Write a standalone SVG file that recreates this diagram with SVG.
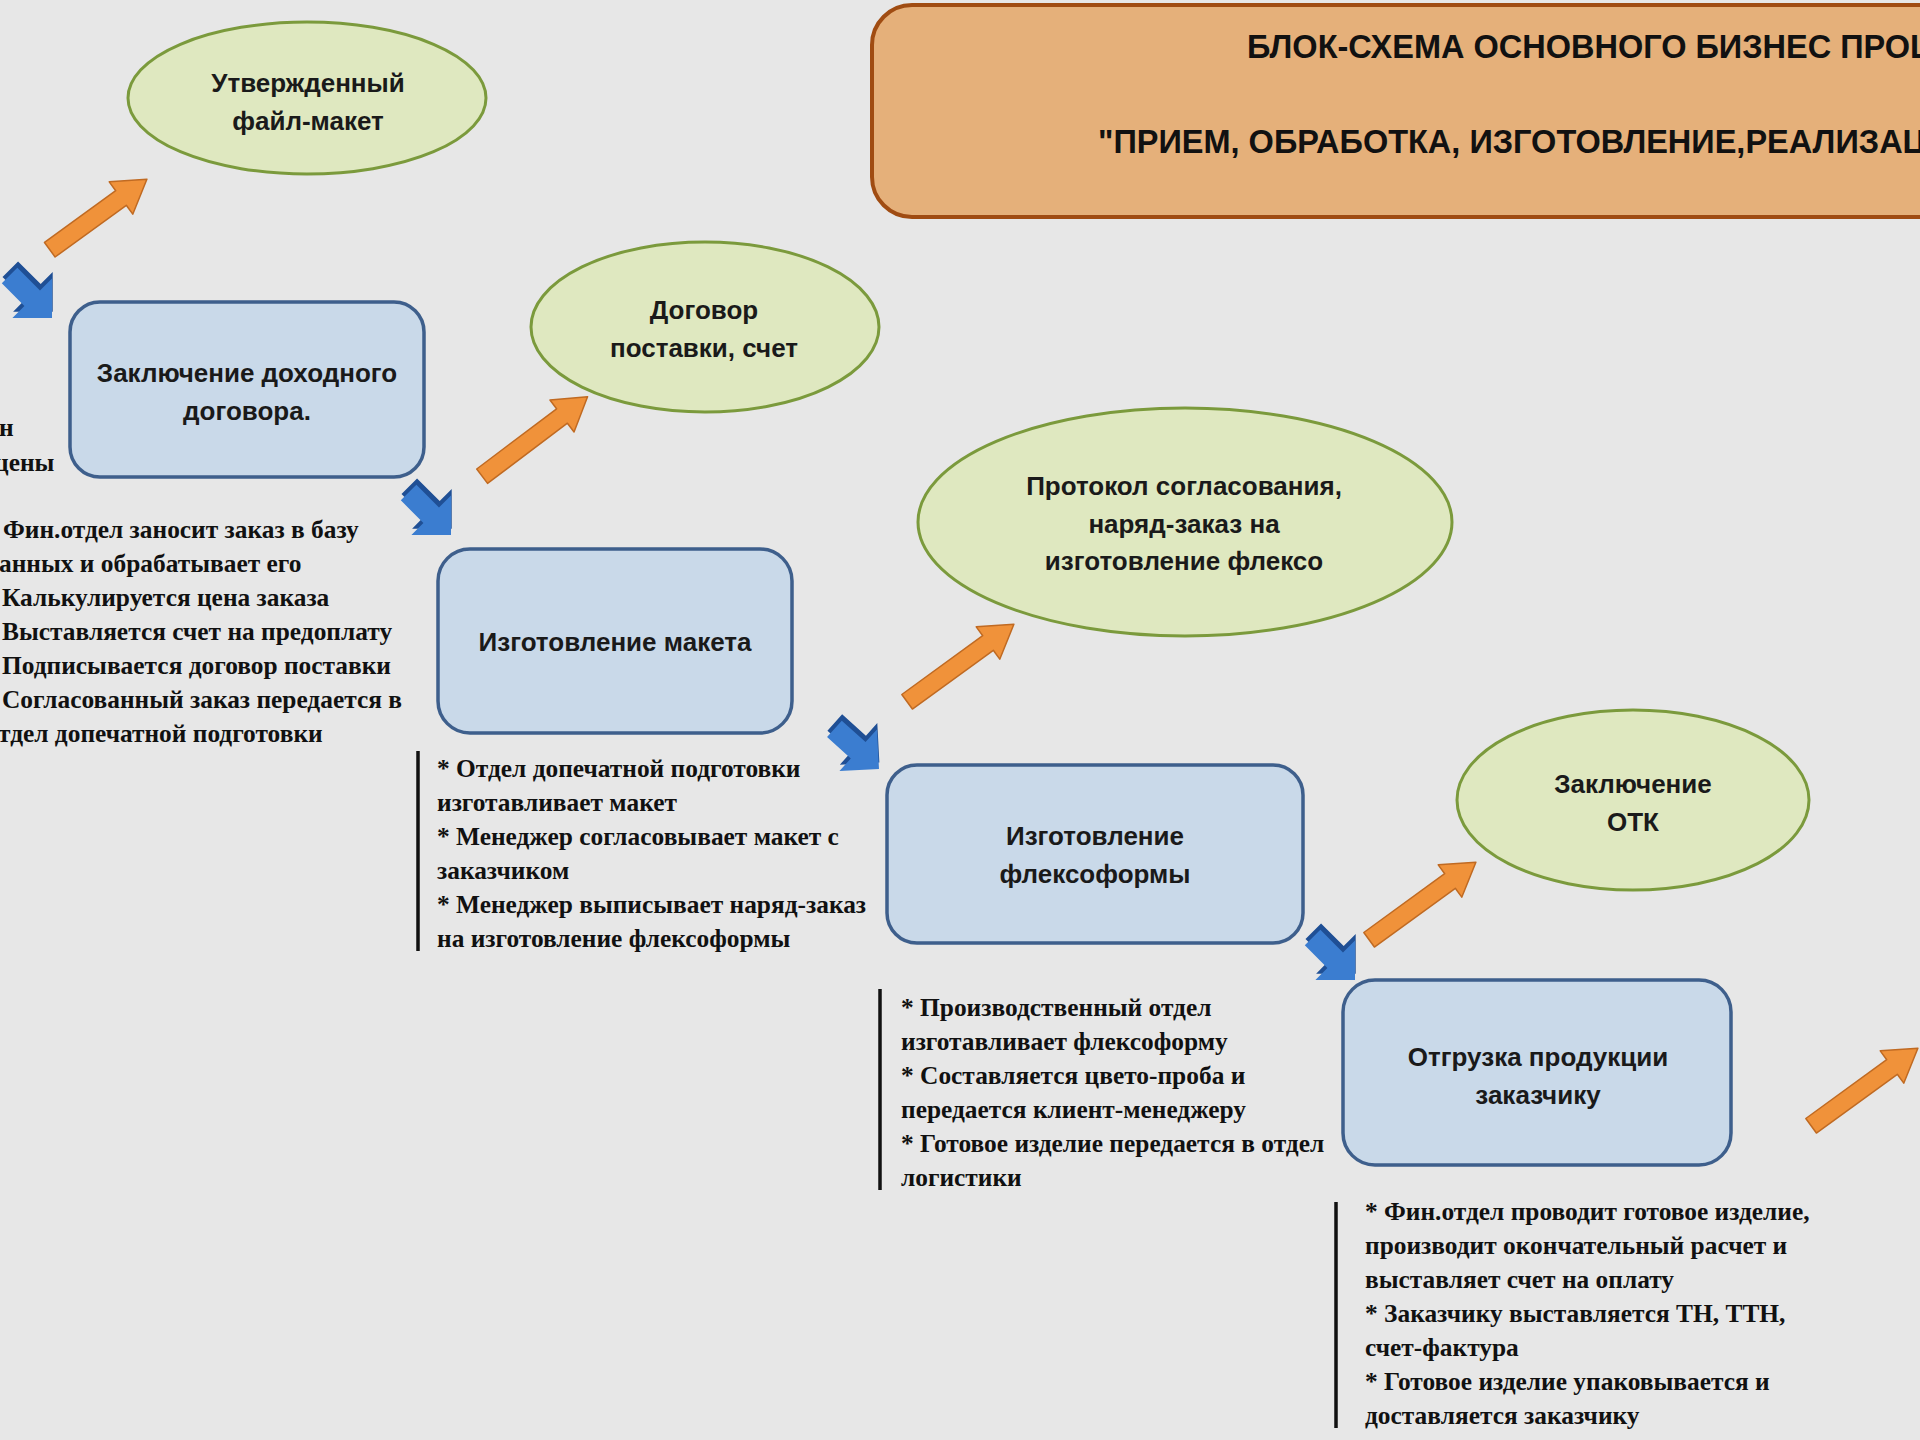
<svg xmlns="http://www.w3.org/2000/svg" width="1920" height="1440" viewBox="0 0 1920 1440">
<defs>
<style>
.bg{fill:#e7e7e7}
.ell{fill:#dfe8c0;stroke:#7b9a3c;stroke-width:3}
.box{fill:#c9d9e9;stroke:#3e5f8c;stroke-width:3.5}
.lbl{font-family:"Liberation Sans",Arial,sans-serif;font-weight:bold;font-size:26px;fill:#1a1a1a;text-anchor:middle}
.ttl{font-family:"Liberation Sans",Arial,sans-serif;font-weight:bold;font-size:32.5px;fill:#111}
.note{font-family:"Liberation Serif","Times New Roman",serif;font-weight:bold;font-size:25.4px;fill:#111}
.bar{stroke:#111;stroke-width:3.5}
.oarr{fill:#f0923a;stroke:#c06a22;stroke-width:1.5;stroke-linejoin:round}
.barr{fill:#3b7dd0}
.barrd{fill:#1f4f95}
</style>
<polygon id="oa" points="0,-9 -100,-9 -100,9 0,9 0,20 32,0 0,-20"/>
<polygon id="oa1" points="0,-9 -88,-9 -88,9 0,9 0,20 32,0 0,-20"/>
<polygon id="ba" points="0,0 -28,-28 -28,-11 -60,-11 -60,11 -28,11 -28,28"/>
</defs>
<rect class="bg" x="0" y="0" width="1920" height="1440"/>

<g id="title">
<rect x="872" y="5" width="1100" height="212" rx="40" ry="40" fill="#e5b07a" stroke="#a04c12" stroke-width="4"/>
<text class="ttl" x="1247" y="58">БЛОК-СХЕМА ОСНОВНОГО БИЗНЕС ПРОЦ</text>
<text class="ttl" x="1098" y="153">"ПРИЕМ, ОБРАБОТКА, ИЗГОТОВЛЕНИЕ,РЕАЛИЗАЦ</text>
</g>

<g id="connectors">
<use href="#oa1" class="oarr" transform="translate(121,198) rotate(-36)"/>
<use href="#oa" class="oarr" transform="translate(562,416) rotate(-37)"/>
<use href="#oa" class="oarr" transform="translate(988,643) rotate(-36)"/>
<use href="#oa" class="oarr" transform="translate(1450,881) rotate(-36)"/>
<use href="#oa" class="oarr" transform="translate(1892,1067) rotate(-36)"/>

<g transform="translate(52,318) rotate(45)"><use href="#ba" class="barrd" transform="translate(-4,-5)"/><use href="#ba" class="barr"/></g>
<g transform="translate(451,535) rotate(45)"><use href="#ba" class="barrd" transform="translate(-4,-5)"/><use href="#ba" class="barr"/></g>
<g transform="translate(879,769) rotate(42)"><use href="#ba" class="barrd" transform="translate(-4,-5)"/><use href="#ba" class="barr"/></g>
<g transform="translate(1355,980) rotate(45)"><use href="#ba" class="barrd" transform="translate(-4,-5)"/><use href="#ba" class="barr"/></g>
</g>

<g id="left-partial">
<text class="note" x="-1" y="436">н</text>
<text class="note" x="-6" y="471">цены</text>
</g>

<g id="n-file">
<ellipse class="ell" cx="307" cy="98" rx="179" ry="76"/>
<text class="lbl" x="308" y="92">Утвержденный</text>
<text class="lbl" x="308" y="130">файл-макет</text>
</g>

<g id="n-contract">
<rect class="box" x="70" y="302" width="354" height="175" rx="30" ry="30"/>
<text class="lbl" x="247" y="382">Заключение доходного</text>
<text class="lbl" x="247" y="420">договора.</text>
</g>

<g id="n-dogovor">
<ellipse class="ell" cx="705" cy="327" rx="174" ry="85"/>
<text class="lbl" x="704" y="319">Договор</text>
<text class="lbl" x="704" y="357">поставки, счет</text>
</g>

<g id="note1">
<text class="note" x="3" y="538">Фин.отдел заносит заказ в базу</text>
<text class="note" x="-1" y="572">анных и обрабатывает его</text>
<text class="note" x="2" y="606">Калькулируется цена заказа</text>
<text class="note" x="2" y="640">Выставляется счет на предоплату</text>
<text class="note" x="2" y="674">Подписывается договор поставки</text>
<text class="note" x="2" y="708">Согласованный заказ передается в</text>
<text class="note" x="-2" y="742">тдел допечатной подготовки</text>
</g>

<g id="n-maket">
<rect class="box" x="438" y="549" width="354" height="184" rx="32" ry="32"/>
<text class="lbl" x="615" y="651">Изготовление макета</text>
</g>

<g id="note2">
<line class="bar" x1="418" y1="751" x2="418" y2="951"/>
<text class="note" x="437" y="777">* Отдел допечатной подготовки</text>
<text class="note" x="437" y="811">изготавливает макет</text>
<text class="note" x="437" y="845">* Менеджер согласовывает макет с</text>
<text class="note" x="437" y="879">заказчиком</text>
<text class="note" x="437" y="913">* Менеджер выписывает наряд-заказ</text>
<text class="note" x="437" y="947">на изготовление флексоформы</text>
</g>

<g id="n-protocol">
<ellipse class="ell" cx="1185" cy="522" rx="267" ry="114"/>
<text class="lbl" x="1184" y="495">Протокол согласования,</text>
<text class="lbl" x="1184" y="533">наряд-заказ на</text>
<text class="lbl" x="1184" y="570">изготовление флексо</text>
</g>

<g id="n-flexo">
<rect class="box" x="887" y="765" width="416" height="178" rx="30" ry="30"/>
<text class="lbl" x="1095" y="845">Изготовление</text>
<text class="lbl" x="1095" y="883">флексоформы</text>
</g>

<g id="note3">
<line class="bar" x1="880" y1="989" x2="880" y2="1190"/>
<text class="note" x="901" y="1016">* Производственный отдел</text>
<text class="note" x="901" y="1050">изготавливает флексоформу</text>
<text class="note" x="901" y="1084">* Составляется цвето-проба и</text>
<text class="note" x="901" y="1118">передается клиент-менеджеру</text>
<text class="note" x="901" y="1152">* Готовое изделие передается в отдел</text>
<text class="note" x="901" y="1186">логистики</text>
</g>

<g id="n-otk">
<ellipse class="ell" cx="1633" cy="800" rx="176" ry="90"/>
<text class="lbl" x="1633" y="793">Заключение</text>
<text class="lbl" x="1633" y="831">ОТК</text>
</g>

<g id="n-ship">
<rect class="box" x="1343" y="980" width="388" height="185" rx="32" ry="32"/>
<text class="lbl" x="1538" y="1066">Отгрузка продукции</text>
<text class="lbl" x="1538" y="1104">заказчику</text>
</g>

<g id="note4">
<line class="bar" x1="1336" y1="1202" x2="1336" y2="1428"/>
<text class="note" x="1365" y="1220">* Фин.отдел проводит готовое изделие,</text>
<text class="note" x="1365" y="1254">производит окончательный расчет и</text>
<text class="note" x="1365" y="1288">выставляет счет на оплату</text>
<text class="note" x="1365" y="1322">* Заказчику выставляется ТН, ТТН,</text>
<text class="note" x="1365" y="1356">счет-фактура</text>
<text class="note" x="1365" y="1390">* Готовое изделие упаковывается и</text>
<text class="note" x="1365" y="1424">доставляется заказчику</text>
</g>
</svg>
